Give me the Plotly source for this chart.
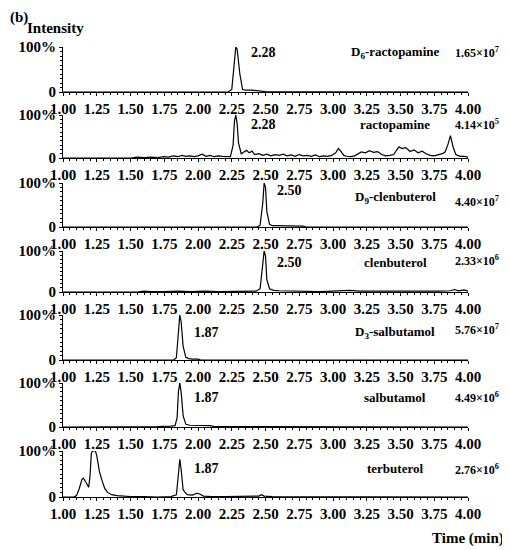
import plotly.graph_objects as go

# retention time (min) and relative intensity (%) for each trace
t1 = [1.00, 2.22, 2.25, 2.27, 2.28, 2.29, 2.31, 2.33, 2.35, 2.40, 2.45, 2.50, 4.00]
i1 = [0, 0, 5, 60, 100, 95, 40, 6, 4, 4, 3, 1, 0]

t2 = [1.00, 1.20, 1.40, 1.50, 1.55, 1.60, 1.65, 1.70, 1.75, 1.78, 1.82, 1.85, 1.88, 1.91, 1.94, 1.97,
      2.00, 2.03, 2.06, 2.09, 2.12, 2.15, 2.18, 2.21, 2.24, 2.26, 2.27, 2.28, 2.29, 2.30, 2.32, 2.34,
      2.36, 2.38, 2.40, 2.42, 2.45, 2.48, 2.51, 2.54, 2.57, 2.60, 2.63, 2.66, 2.69, 2.72, 2.75, 2.78,
      2.81, 2.84, 2.87, 2.90, 2.93, 2.96, 2.99, 3.02, 3.04, 3.06, 3.08, 3.10, 3.13, 3.16, 3.19, 3.21,
      3.24, 3.27, 3.30, 3.33, 3.36, 3.39, 3.42, 3.45, 3.47, 3.49, 3.51, 3.54, 3.57, 3.60, 3.63, 3.66,
      3.69, 3.72, 3.75, 3.78, 3.81, 3.83, 3.85, 3.87, 3.89, 3.91, 3.94, 3.97, 4.00]
i2 = [0, 0, 1, 0, 2, 1, 2, 1, 3, 2, 5, 3, 6, 4, 5, 3,
      5, 9, 4, 6, 3, 5, 4, 3, 3, 30, 85, 100, 80, 35, 10, 14,
      18, 12, 16, 8, 10, 6, 9, 5, 8, 6, 9, 5, 7, 4, 8, 5,
      6, 4, 7, 3, 5, 4, 6, 12, 22, 15, 6, 4, 3, 5, 10, 14,
      12, 17, 13, 15, 8, 5, 6, 8, 18, 26, 22, 24, 15, 19, 12, 16,
      10, 6, 5, 8, 10, 14, 30, 52, 25, 8, 4, 4, 2]

t3 = [1.00, 2.44, 2.46, 2.48, 2.49, 2.50, 2.51, 2.53, 2.55, 2.60, 2.70, 2.78, 2.80, 4.00]
i3 = [0, 0, 4, 55, 100, 90, 35, 6, 3, 3, 2, 2, 0, 0]

t4 = [1.00, 1.55, 1.60, 1.65, 1.75, 1.85, 1.95, 2.05, 2.15, 2.25, 2.35, 2.43, 2.46, 2.48, 2.49, 2.50,
      2.51, 2.53, 2.56, 2.60, 2.70, 2.80, 2.90, 3.00, 3.08, 3.12, 3.20, 3.40, 3.60, 3.80, 3.87, 3.90,
      3.93, 3.97, 4.00]
i4 = [0, 0, 2, 1, 1, 2, 1, 2, 1, 1, 2, 2, 8, 60, 100, 88,
      30, 8, 4, 3, 2, 2, 1, 2, 3, 4, 2, 2, 1, 2, 3, 6,
      3, 5, 2]

t5 = [1.00, 1.82, 1.84, 1.855, 1.865, 1.875, 1.89, 1.91, 1.93, 1.96, 2.00, 2.02, 4.00]
i5 = [0, 0, 5, 60, 100, 85, 30, 6, 3, 2, 2, 0, 0]

t6 = [1.00, 1.50, 1.60, 1.70, 1.80, 1.83, 1.845, 1.855, 1.865, 1.875, 1.89, 1.91, 1.94, 1.98,
      2.02, 2.06, 2.09, 2.12, 2.20, 2.40, 2.60, 2.80, 3.00, 3.20, 3.40, 3.60, 3.80, 4.00]
i6 = [0, 0, 1, 1, 2, 3, 20, 80, 100, 80, 25, 6, 4, 4,
      3, 4, 3, 1, 1, 0, 1, 0, 1, 0, 0, 0, 0, 0]

t7 = [1.00, 1.08, 1.10, 1.12, 1.14, 1.15, 1.17, 1.19, 1.20, 1.21, 1.22, 1.24, 1.25, 1.27, 1.29, 1.31,
      1.33, 1.36, 1.40, 1.45, 1.50, 1.60, 1.70, 1.80, 1.84, 1.855, 1.865, 1.875, 1.89, 1.92, 1.96, 1.99,
      2.01, 2.04, 2.10, 2.20, 2.30, 2.40, 2.45, 2.47, 2.49, 2.55, 2.70, 3.00, 3.50, 4.00]
i7 = [0, 0, 3, 18, 38, 41, 32, 21, 45, 95, 100, 100, 90, 55, 35, 18,
      10, 5, 3, 2, 1, 1, 0, 1, 5, 50, 82, 60, 15, 5, 4, 8,
      7, 2, 1, 1, 1, 1, 2, 5, 2, 1, 1, 1, 0, 0]

times = [t1, t2, t3, t4, t5, t6, t7]
intens = [i1, i2, i3, i4, i5, i6, i7]

compounds = ["D<sub>6</sub>-ractopamine", "ractopamine", "D<sub>9</sub>-clenbuterol", "clenbuterol",
             "D<sub>3</sub>-salbutamol", "salbutamol", "terbuterol"]
scales = ["1.65×10<sup>7</sup>", "4.14×10<sup>5</sup>", "4.40×10<sup>7</sup>", "2.33×10<sup>6</sup>",
          "5.76×10<sup>7</sup>", "4.49×10<sup>6</sup>", "2.76×10<sup>6</sup>"]
peak_labels = ["2.28", "2.28", "2.50", "2.50", "1.87", "1.87", "1.87"]

x_ticks = [1.00, 1.25, 1.50, 1.75, 2.00, 2.25, 2.50, 2.75, 3.00, 3.25, 3.50, 3.75, 4.00]

# page body has an 8px margin, so the figure is a bit smaller than the window
OFF = 8
W, H = 510 - OFF, 550 - OFF
FONT = "Liberation Serif"


def px(x):
    return (x - OFF) / W


def py_(y):
    return 1 - (y - OFF) / H


# pixel layout of each panel in the window: (top, baseline)
panels = [(47, 92), (115, 158), (183, 227), (251, 292), (315, 360), (383, 427), (451, 497)]
peak_pos = [(2.38, 87), (2.38, 77), (2.57, 84), (2.57, 73), (1.955, 62), (1.955, 68), (1.955, 63)]
name_y = [87, 77, 66, 73, 62, 68, 63]
scale_y = [87, 77, 59, 78, 67, 68, 59]

fig = go.Figure()
annotations = []

for k in range(7):
    n = "" if k == 0 else str(k + 1)
    fig.add_trace(go.Scatter(x=times[k], y=intens[k], mode="lines",
                             line=dict(color="black", width=1.2),
                             xaxis="x" + n, yaxis="y" + n, showlegend=False,
                             hoverinfo="skip"))
    top, base = panels[k]
    fig.layout["xaxis" + n] = dict(
        domain=[px(63), px(468)], anchor="y" + n, range=[1.0, 4.0], automargin=False,
        tickvals=x_ticks, tickformat=".2f", showgrid=False, zeroline=False,
        showline=True, linecolor="black", linewidth=1.2,
        ticks="outside", ticklen=3, tickcolor="black",
        minor=dict(dtick=0.05, ticks="outside", ticklen=2, tickcolor="black"),
        tickfont=dict(family=FONT, size=15, color="black", weight="bold"))
    fig.layout["yaxis" + n] = dict(
        domain=[py_(base), py_(top)], anchor="x" + n, range=[0, 100], automargin=False,
        tickvals=[0, 100], ticktext=["0", "100%"], showgrid=False, zeroline=False,
        showline=True, linecolor="black", linewidth=1.2,
        ticks="outside", ticklen=3, tickcolor="black",
        minor=dict(dtick=10, ticks="outside", ticklen=2, tickcolor="black"),
        tickfont=dict(family=FONT, size=15, color="black", weight="bold"))

    annotations.append(dict(x=peak_pos[k][0], y=peak_pos[k][1], xref="x" + n, yref="y" + n,
                            text=peak_labels[k], showarrow=False, xanchor="left", yanchor="middle",
                            font=dict(family=FONT, size=14, color="black", weight="bold")))
    annotations.append(dict(x=3.46, y=name_y[k], xref="x" + n, yref="y" + n,
                            text=compounds[k], showarrow=False, xanchor="center", yanchor="middle",
                            font=dict(family=FONT, size=13, color="black", weight="bold")))
    annotations.append(dict(x=px(477), y=scale_y[k], xref="paper", yref="y" + n,
                            text=scales[k], showarrow=False, xanchor="center", yanchor="middle",
                            font=dict(family=FONT, size=12, color="black", weight="bold")))

annotations.append(dict(x=px(8), y=py_(18), xref="paper", yref="paper", text="(b)",
                        showarrow=False, xanchor="left", yanchor="middle",
                        font=dict(family=FONT, size=15, color="black", weight="bold")))
annotations.append(dict(x=px(25), y=py_(28), xref="paper", yref="paper", text="Intensity",
                        showarrow=False, xanchor="left", yanchor="middle",
                        font=dict(family=FONT, size=15, color="black", weight="bold")))
annotations.append(dict(x=px(506), y=py_(538), xref="paper", yref="paper", text="Time (min)",
                        showarrow=False, xanchor="right", yanchor="middle",
                        font=dict(family=FONT, size=15, color="black", weight="bold")))

fig.update_layout(width=W, height=H, margin=dict(l=0, r=0, t=0, b=0),
                  paper_bgcolor="white", plot_bgcolor="white",
                  annotations=annotations,
                  font=dict(family=FONT, color="black"))

fig.write_html("out.html")
